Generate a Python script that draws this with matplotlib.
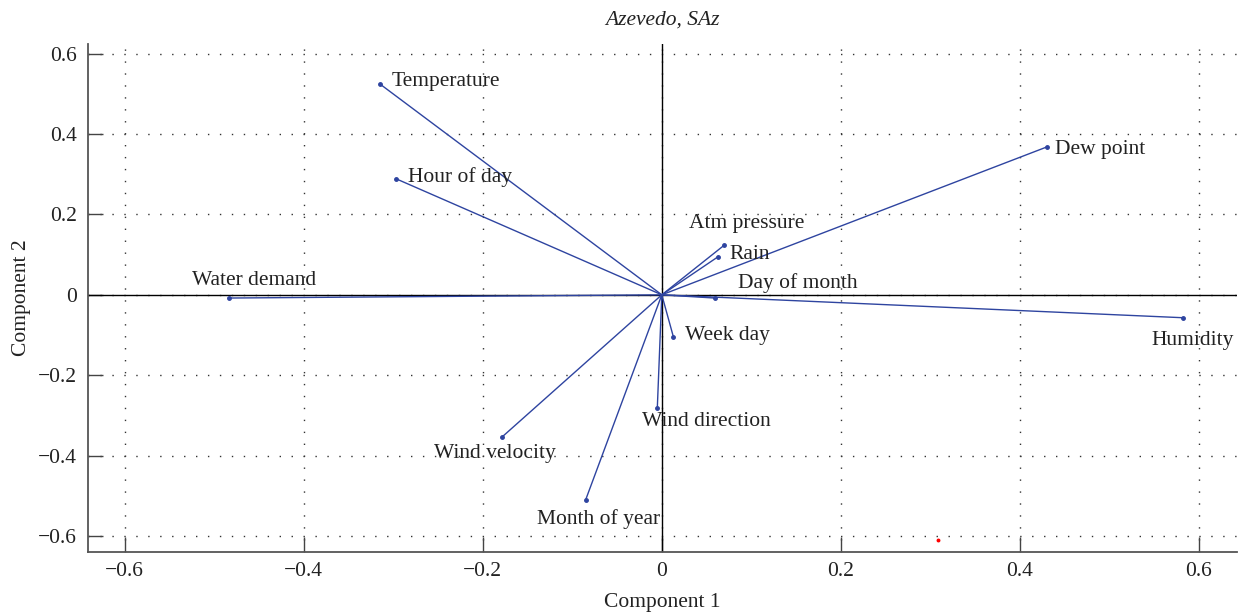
import numpy as np
import matplotlib
matplotlib.use("Agg")
import matplotlib.pyplot as plt

# PCA loadings
variables = ["Temperature", "Hour of day", "Water demand", "Dew point",
             "Atm pressure", "Rain", "Day of month", "Humidity",
             "Week day", "Wind direction", "Wind velocity", "Month of year"]
comp1 = [-0.315, -0.297, -0.484, 0.430, 0.070, 0.063, 0.059, 0.582,
         0.013, -0.005, -0.178, -0.085]
comp2 = [0.525, 0.289, -0.008, 0.368, 0.124, 0.095, -0.008, -0.057,
         -0.105, -0.281, -0.353, -0.510]

# stray red point in the original figure
red_x = [0.308]
red_y = [-0.61]

xticks = [-0.6, -0.4, -0.2, 0, 0.2, 0.4, 0.6]
yticks = [-0.6, -0.4, -0.2, 0, 0.2, 0.4, 0.6]
tick_text = ['\u22120.6', '\u22120.4', '\u22120.2', '0', '0.2', '0.4', '0.6']

# label offsets in pixels (dx, dy) from each point
label_offsets = {
    "Temperature": (12, 2), "Hour of day": (12, 2), "Water demand": (-37, 18),
    "Dew point": (8, -3), "Atm pressure": (-35, 22), "Rain": (11, 2),
    "Day of month": (23, 15), "Humidity": (-31, -23), "Week day": (12, 2),
    "Wind direction": (-15, -14), "Wind velocity": (-68, -17),
    "Month of year": (-49, -19),
}

plt.rcParams['font.family'] = ['Liberation Serif', 'DejaVu Serif']
fs = 15.5

fig = plt.figure(figsize=(12.39, 6.16), dpi=100)
ax = fig.add_axes([0.071, 0.104, 0.927, 0.825])

line_col = '#2e44a0'
for name, x, y in zip(variables, comp1, comp2):
    ax.plot([0, x], [0, y], color=line_col, lw=1.0, zorder=3)
    ax.plot(x, y, 'o', color=line_col, ms=2.5, zorder=4)
    dx, dy = label_offsets[name]
    ax.annotate(name, (x, y), xytext=(dx, dy), textcoords='offset pixels',
                ha='left', va='center', color='#222222', fontsize=fs, zorder=5)

ax.plot(red_x, red_y, 'o', color='red', ms=1.8, zorder=4)

ax.axhline(0, color='black', lw=1.0, zorder=2)
ax.axvline(0, color='black', lw=1.0, zorder=2)

ax.set_xlim(-0.641, 0.642)
ax.set_ylim(-0.64, 0.625)
ax.set_xticks(xticks)
ax.set_yticks(yticks)
ax.set_xticklabels(tick_text)
ax.set_yticklabels(tick_text)
ax.tick_params(direction='in', length=11, width=1, color='#444444',
               labelsize=fs, labelcolor='#222222')
ax.tick_params(axis='x', pad=7)
ax.tick_params(axis='y', pad=8)

ax.grid(True, color='#333333', linestyle=(0, (1, 7.6)), lw=1.0)
for side in ['top', 'right']:
    ax.spines[side].set_visible(False)
for side in ['left', 'bottom']:
    ax.spines[side].set_color('#555555')
    ax.spines[side].set_linewidth(1.3)

ax.set_xlabel('Component 1', fontsize=fs, color='#222222', labelpad=9)
ax.set_ylabel('Component 2', fontsize=fs, color='#222222', labelpad=5)
ax.set_title('Azevedo, SAz', fontsize=fs, style='italic', color='#222222', pad=14)

fig.savefig('out.png', dpi=100)
